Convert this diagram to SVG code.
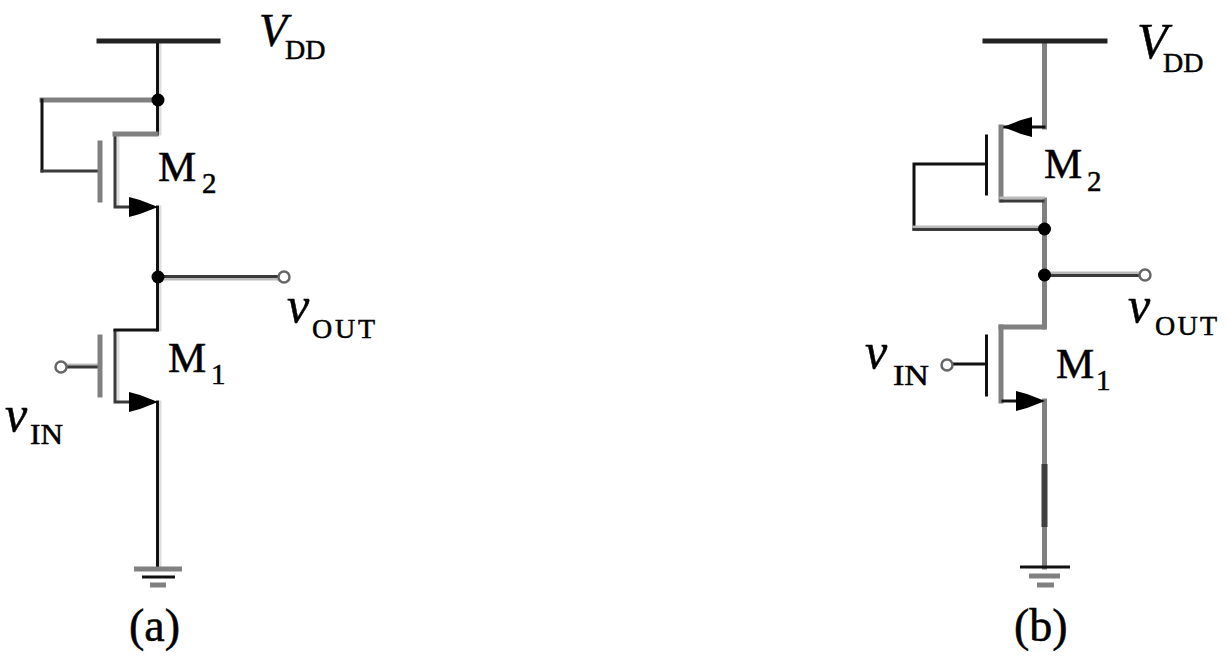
<svg xmlns="http://www.w3.org/2000/svg" width="1228" height="662" viewBox="0 0 1228 662">
<style>
.w{fill:none;stroke-linecap:square;stroke-linejoin:miter}
.k{stroke:#111;stroke-width:3}
.d{stroke:#3a3a3a;stroke-width:3}
.g{stroke:#808080;stroke-width:5}
.l{stroke:#ddd;stroke-width:3}
.m{stroke:#bbb;stroke-width:3}
.bar{stroke:#222;stroke-width:5}
.dot{fill:#000}
.term{fill:#fff;stroke:#666;stroke-width:2.5}
.arrow{fill:#000}
text{font-family:"Liberation Serif","Times New Roman",serif;fill:#000;stroke:#000;stroke-width:.5px}
.big{font-size:43px}
.sub{font-size:28px}
.in{font-size:30px}
.num{font-size:29px}
.var{font-size:50px;font-style:italic}
.cap{font-size:46px}
</style>
<rect width="1228" height="662" fill="#fff"/>
<g id="connectors">
<!-- circuit a -->
<path class="w l" d="M160 42V134M160 207V330M160 402V568"/>
<path class="w k" d="M157.500 42V134M157.500 207V330M157.500 402V568"/>
<path class="w g" d="M42 100H156"/>
<path class="w k" d="M42 100V171"/>
<path class="w d" d="M42 171H100"/>
<path class="w l" d="M118 136V207"/>
<path class="w d" d="M115 136V207H130"/>
<path class="w g" d="M115 134H156"/>
<path class="w m" d="M158 279H282"/>
<path class="w d" d="M158 276.500H282"/>
<path class="w l" d="M118 332V402"/>
<path class="w d" d="M115 331V402H130"/>
<path class="w k" d="M115 330H156"/>
<path class="w m" d="M66 365H100"/>
<path class="w d" d="M66 367H100"/>
<!-- circuit b -->
<path class="w g" d="M1044.500 42V127M1044.500 200V327M1044.500 401V567"/>
<path class="w" stroke="#3f3f3f" stroke-width="6" d="M1044.500 467V524"/>
<path class="w k" d="M1003 127H1044"/>
<path class="w g" d="M1001 127V200M1001 327V401"/>
<path class="w m" d="M1001 198H1043"/>
<path class="w d" d="M1001 201H1043"/>
<path class="w k" d="M914 164H985M914 164V229"/>
<path class="w m" d="M914 227H1043"/>
<path class="w d" d="M914 229.500H1043"/>
<path class="w m" d="M1044 273H1140"/>
<path class="w d" d="M1044 275.500H1140"/>
<path class="w g" d="M1001 327H1043"/>
<path class="w k" d="M952 364H985"/>
<path class="w k" d="M1003 401H1020"/>
</g>
<g id="vdd-a"><path class="w bar" d="M99 41H218"/></g>
<g id="vdd-b"><path class="w bar" d="M985 41H1105"/></g>
<g id="m2-a">
<path class="w g" d="M100 143V200"/>
<polygon class="arrow" points="129,197 140,200 158,207 140,214 129,217"/>
</g>
<g id="m1-a">
<path class="w g" d="M100 337V395"/>
<polygon class="arrow" points="129,392 140,395 158,402 140,409 129,412"/>
</g>
<g id="m2-b">
<path class="w k" d="M986.500 136V194"/>
<polygon class="arrow" points="1003,127 1021,120 1032,117 1032,137 1021,134"/>
</g>
<g id="m1-b">
<path class="w k" d="M986.500 336V395"/>
<polygon class="arrow" points="1045,401 1027,394 1016,391 1016,411 1027,408"/>
</g>
<g id="junctions">
<circle class="dot" cx="158" cy="100" r="6.500"/>
<circle class="dot" cx="158" cy="277" r="6.500"/>
<circle class="dot" cx="1044.500" cy="229" r="6.500"/>
<circle class="dot" cx="1044.500" cy="275" r="6.500"/>
</g>
<g id="terminals">
<circle class="term" cx="284" cy="277" r="5.500"/>
<circle class="term" cx="61" cy="367" r="5.500"/>
<circle class="term" cx="1145" cy="275" r="5.500"/>
<circle class="term" cx="947" cy="365" r="5.500"/>
</g>
<g id="ground-a">
<path class="w g" style="stroke-linecap:butt" d="M134 569H182"/>
<path class="w k" style="stroke-linecap:butt" d="M142 577H175"/>
<path class="w g" style="stroke-linecap:butt" d="M150 585H166"/>
</g>
<g id="ground-b">
<path class="w k" style="stroke-linecap:butt" d="M1020 567H1070"/>
<path class="w g" style="stroke-linecap:butt" d="M1029 576H1060"/>
<path class="w g" style="stroke-linecap:butt" d="M1037 585H1054"/>
</g>
<g id="labels-a">
<text class="var" x="259" y="46" style="font-size:46px">V</text>
<text class="sub" x="285" y="59">DD</text>
<text class="big" x="158" y="181">M</text>
<text class="num" x="202" y="193">2</text>
<text class="big" x="168" y="372">M</text>
<text class="num" x="211" y="384">1</text>
<text class="var" x="287" y="322">v</text>
<text class="sub" x="312" y="338" textLength="63" lengthAdjust="spacing">OUT</text>
<text class="var" x="5" y="431">v</text>
<text class="in" x="30" y="444" textLength="33" lengthAdjust="spacingAndGlyphs">IN</text>
<text class="cap" x="129" y="641">(a)</text>
</g>
<g id="labels-b">
<text class="var" x="1137" y="58">V</text>
<text class="sub" x="1163" y="72">DD</text>
<text class="big" x="1044" y="178">M</text>
<text class="num" x="1087" y="191">2</text>
<text class="big" x="1056" y="378">M</text>
<text class="num" x="1096" y="390">1</text>
<text class="var" x="1128" y="322">v</text>
<text class="sub" x="1155" y="335" textLength="62" lengthAdjust="spacing">OUT</text>
<text class="var" x="865" y="368">v</text>
<text class="in" x="893" y="385" textLength="36" lengthAdjust="spacingAndGlyphs">IN</text>
<text class="cap" x="1014" y="641">(b)</text>
</g>
</svg>
